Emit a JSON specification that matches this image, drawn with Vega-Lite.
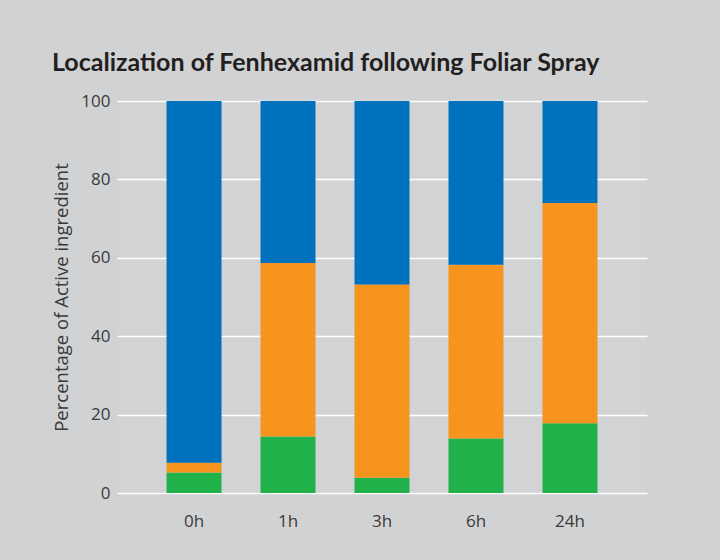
{
  "$schema": "https://vega.github.io/schema/vega-lite/v6.json",
  "autosize": {"type": "none"},
  "width": 530,
  "height": 392,
  "padding": {"left": 117, "top": 101, "right": 73, "bottom": 67},
  "background": "#d1d2d4",
  "title": {
    "text": "Localization of Fenhexamid following Foliar Spray",
    "anchor": "start",
    "frame": "group",
    "dx": -65,
    "offset": 16,
    "font": "Lato",
    "fontSize": 25,
    "fontWeight": "bold",
    "color": "#231f20"
  },
  "data": {
    "values": [
      {"time": "0h", "fraction": "Penetrated", "order": 1, "percent": 5.2},
      {"time": "0h", "fraction": "Wax layer", "order": 2, "percent": 2.5},
      {"time": "0h", "fraction": "Leaf surface", "order": 3, "percent": 92.3},
      {"time": "1h", "fraction": "Penetrated", "order": 1, "percent": 14.4},
      {"time": "1h", "fraction": "Wax layer", "order": 2, "percent": 44.3},
      {"time": "1h", "fraction": "Leaf surface", "order": 3, "percent": 41.3},
      {"time": "3h", "fraction": "Penetrated", "order": 1, "percent": 3.9},
      {"time": "3h", "fraction": "Wax layer", "order": 2, "percent": 49.3},
      {"time": "3h", "fraction": "Leaf surface", "order": 3, "percent": 46.8},
      {"time": "6h", "fraction": "Penetrated", "order": 1, "percent": 13.9},
      {"time": "6h", "fraction": "Wax layer", "order": 2, "percent": 44.3},
      {"time": "6h", "fraction": "Leaf surface", "order": 3, "percent": 41.8},
      {"time": "24h", "fraction": "Penetrated", "order": 1, "percent": 17.8},
      {"time": "24h", "fraction": "Wax layer", "order": 2, "percent": 56.2},
      {"time": "24h", "fraction": "Leaf surface", "order": 3, "percent": 26.0}
    ]
  },
  "mark": {"type": "bar"},
  "encoding": {
    "x": {
      "field": "time",
      "type": "nominal",
      "sort": ["0h", "1h", "3h", "6h", "24h"],
      "scale": {"paddingInner": 0.415, "paddingOuter": 0.527},
      "axis": {
        "title": null,
        "labelAngle": 0,
        "ticks": false,
        "domain": false,
        "labelPadding": 20,
        "labelFont": "Open Sans",
        "labelFontSize": 17,
        "labelColor": "#3a3a3a"
      }
    },
    "y": {
      "field": "percent",
      "type": "quantitative",
      "stack": "zero",
      "scale": {"domain": [0, 100]},
      "axis": {
        "title": "Percentage of Active ingredient",
        "titleFont": "Open Sans",
        "titleFontSize": 18.5,
        "titleFontWeight": "normal",
        "titleColor": "#3a3a3a",
        "titlePadding": 9,
        "values": [0, 20, 40, 60, 80, 100],
        "ticks": false,
        "domain": false,
        "labelPadding": 7,
        "labelFont": "Open Sans",
        "labelFontSize": 17,
        "labelColor": "#3a3a3a",
        "gridColor": "#ffffff",
        "gridWidth": 1.5
      }
    },
    "color": {
      "field": "fraction",
      "type": "nominal",
      "scale": {
        "domain": ["Penetrated", "Wax layer", "Leaf surface"],
        "range": ["#22b24c", "#f7941e", "#0071bc"]
      },
      "legend": null
    },
    "order": {"field": "order", "type": "quantitative"}
  },
  "config": {
    "view": {"fill": "#d1d3d5", "stroke": null}
  }
}
